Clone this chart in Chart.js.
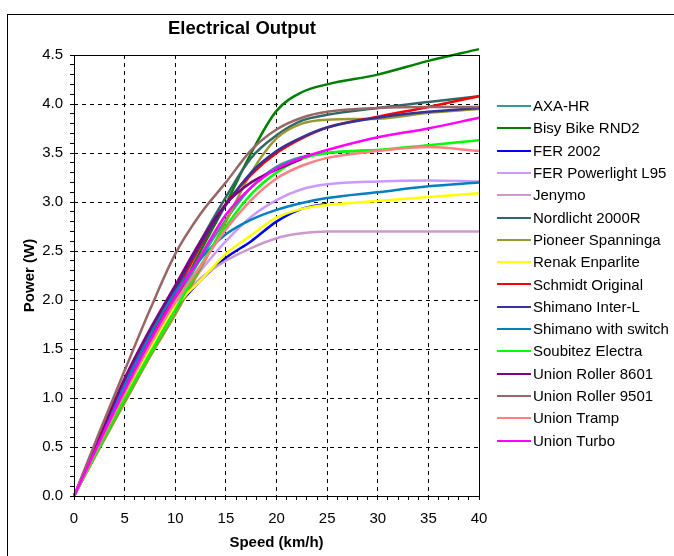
<!DOCTYPE html>
<html>
<head>
<meta charset="utf-8">
<script src="https://cdn.jsdelivr.net/npm/chart.js@4.4.1/dist/chart.umd.min.js"></script>
<style>
html,body{margin:0;padding:0;background:#fff;}
#wrap{position:relative;width:674px;height:556px;overflow:hidden;}
canvas{display:block;}
</style>
</head>
<body>
<div id="wrap"><canvas id="c" width="674" height="556"></canvas></div>
<script>
// ---- data ----
const chartTitle = "Electrical Output";
const xAxisTitle = "Speed (km/h)";
const yAxisTitle = "Power (W)";

const speeds = [0, 2.5, 5, 7.5, 10, 12.5, 15, 17.5, 20, 22.5, 25, 30, 35, 40];

const seriesNames = [
  "AXA-HR", "Bisy Bike RND2", "FER 2002", "FER Powerlight L95", "Jenymo",
  "Nordlicht 2000R", "Pioneer Spanninga", "Renak Enparlite", "Schmidt Original",
  "Shimano Inter-L", "Shimano with switch", "Soubitez Electra", "Union Roller 8601",
  "Union Roller 9501", "Union Tramp", "Union Turbo"
];

const seriesColors = [
  "#339999", "#008000", "#0000ff", "#cc99ff", "#cc99cc",
  "#336666", "#999933", "#ffff00", "#ff0000",
  "#333399", "#0080c0", "#00ff00", "#800080",
  "#996666", "#ff8080", "#ff00ff"
];

const axaHr        = [0, 0.52, 1.04, 1.52, 1.97, 2.42, 2.82, 3.15, 3.36, 3.46, 3.50, 3.53];
const bisyBike     = [0, 0.54, 1.08, 1.55, 2.00, 2.50, 2.98, 3.50, 3.93, 4.12, 4.20, 4.30, 4.44, 4.56];
const fer2002      = [0, 0.50, 1.00, 1.47, 1.90, 2.20, 2.43, 2.60, 2.80, 2.93, 2.98];
const ferL95       = [0, 0.53, 1.05, 1.53, 1.97, 2.30, 2.60, 2.85, 3.02, 3.13, 3.18, 3.21, 3.22, 3.21];
const jenymo       = [0, 0.52, 1.04, 1.50, 1.94, 2.22, 2.40, 2.53, 2.63, 2.68, 2.70, 2.70, 2.70, 2.70];
const nordlicht    = [0, 0.56, 1.10, 1.62, 2.08, 2.60, 3.05, 3.45, 3.68, 3.83, 3.89, 3.96, 4.02, 4.08];
const pioneer      = [0, 0.48, 0.95, 1.42, 1.85, 2.32, 2.80, 3.30, 3.65, 3.80, 3.84, 3.85, 3.91, 3.95];
const renak        = [0, 0.52, 1.03, 1.50, 1.93, 2.20, 2.47, 2.66, 2.84, 2.93, 2.97, 3.01, 3.05, 3.09];
const schmidt      = [0, 0.55, 1.10, 1.60, 2.07, 2.55, 2.98, 3.28, 3.50, 3.65, 3.76, 3.87, 3.97, 4.08];
const shimanoInter = [0, 0.58, 1.15, 1.66, 2.12, 2.57, 2.97, 3.30, 3.52, 3.66, 3.76, 3.86, 3.92, 3.96];
const shimanoSwitch= [0, 0.57, 1.13, 1.64, 2.08, 2.42, 2.67, 2.82, 2.92, 2.99, 3.04, 3.10, 3.16, 3.20];
const soubitez     = [0, 0.50, 0.99, 1.45, 1.90, 2.35, 2.75, 3.08, 3.30, 3.44, 3.50, 3.53, 3.58, 3.63];
const roller8601   = [0, 0.60, 1.20, 1.70, 2.15, 2.60, 2.98, 3.20, 3.33, 3.44];
const roller9501   = [0, 0.65, 1.28, 1.90, 2.47, 2.88, 3.20, 3.53, 3.74, 3.86, 3.92, 3.96, 3.97, 3.97];
const unionTramp   = [0, 0.53, 1.05, 1.54, 1.98, 2.35, 2.72, 3.02, 3.24, 3.37, 3.45, 3.52, 3.56, 3.52];
const unionTurbo   = [0, 0.55, 1.08, 1.58, 2.03, 2.45, 2.87, 3.15, 3.34, 3.45, 3.53, 3.66, 3.75, 3.86];

const seriesValues = [axaHr, bisyBike, fer2002, ferL95, jenymo, nordlicht, pioneer, renak,
  schmidt, shimanoInter, shimanoSwitch, soubitez, roller8601, roller9501, unionTramp, unionTurbo];

const xMin = 0, xMax = 40, xMinorStep = 1, xMajorEvery = 5;
const yMin = 0, yMax = 4.5, yMinorStep = 0.1, yMajorEvery = 0.5;

// ---- styling / layout ----
const FONT = "'Liberation Sans', Arial, sans-serif";
const PLOT = {left: 74, top: 55, right: 479, bottom: 496};
const CANVAS_W = 674, CANVAS_H = 556;

const datasets = seriesNames.map((name, i) => ({
  label: name,
  data: seriesValues[i].map((v, k) => ({x: speeds[k], y: v})),
  borderColor: seriesColors[i],
  backgroundColor: seriesColors[i],
  borderWidth: 2.5,
  pointRadius: 0,
  pointHoverRadius: 0,
  fill: false,
  clip: false,
  cubicInterpolationMode: 'monotone',
  order: seriesNames.length - 1 - i
}));

function isMajor(v, every) {
  const r = v / every;
  return Math.abs(r - Math.round(r)) < 1e-6;
}

const decorPlugin = {
  id: 'decor',
  beforeDraw(chart) {
    const ctx = chart.ctx;
    ctx.save();
    ctx.fillStyle = '#fff';
    ctx.fillRect(0, 0, CANVAS_W, CANVAS_H);
    ctx.strokeStyle = '#000';
    ctx.lineWidth = 1;
    ctx.strokeRect(7.5, 14.5, CANVAS_W + 20, CANVAS_H + 20);
    ctx.restore();
  },
  afterDraw(chart) {
    const ctx = chart.ctx;
    const a = chart.chartArea;
    ctx.save();
    // plot frame
    ctx.strokeStyle = '#000';
    ctx.lineWidth = 1;
    ctx.setLineDash([]);
    ctx.strokeRect(Math.round(a.left) + 0.5, Math.round(a.top) + 0.5,
      Math.round(a.right - a.left), Math.round(a.bottom - a.top));
    // title
    ctx.fillStyle = '#000';
    ctx.font = "bold 18.5px " + FONT;
    ctx.textAlign = 'center';
    ctx.textBaseline = 'middle';
    ctx.fillText(chartTitle, 242, 29);
    // legend
    ctx.font = "15px " + FONT;
    ctx.textAlign = 'left';
    const lx0 = a.right + 18, lx1 = a.right + 52, tx = a.right + 54;
    const ly0 = 106, step = 22.3;
    chart.data.datasets.forEach((ds, i) => {
      const y = ly0 + i * step;
      ctx.strokeStyle = ds.borderColor;
      ctx.lineWidth = 2;
      ctx.beginPath();
      ctx.moveTo(lx0, Math.round(y));
      ctx.lineTo(lx1, Math.round(y));
      ctx.stroke();
      ctx.fillStyle = '#000';
      ctx.fillText(ds.label, tx, y + 1);
    });
    ctx.restore();
  }
};

new Chart(document.getElementById('c'), {
  type: 'line',
  data: {datasets},
  options: {
    responsive: false,
    animation: false,
    devicePixelRatio: 1,
    events: [],
    layout: {padding: {left: 0, top: PLOT.top, right: CANVAS_W - PLOT.right, bottom: 0}},
    plugins: {legend: {display: false}, title: {display: false}, tooltip: {enabled: false}},
    scales: {
      x: {
        type: 'linear',
        min: xMin, max: xMax,
        afterFit(scale) { scale.height = CANVAS_H - PLOT.bottom; },
        border: {display: false, dash: [4, 4]},
        grid: {
          color: (ctx) => {
            const v = ctx.tick ? ctx.tick.value : 0;
            return (isMajor(v, xMajorEvery) && v > xMin && v < xMax) ? '#000' : 'rgba(0,0,0,0)';
          },
          lineWidth: 1,
          tickColor: '#000',
          tickLength: 4,
          drawTicks: true
        },
        ticks: {
          stepSize: xMinorStep,
          autoSkip: false,
          maxRotation: 0,
          padding: 10,
          color: '#000',
          font: {family: FONT, size: 15},
          callback: (v) => isMajor(v, xMajorEvery) ? String(Math.round(v)) : ''
        },
        title: {
          display: true, text: xAxisTitle, color: '#000',
          font: {family: FONT, size: 15, weight: 'bold'},
          padding: {top: 0, bottom: 4}
        }
      },
      y: {
        type: 'linear',
        min: yMin, max: yMax,
        afterFit(scale) { scale.width = PLOT.left; },
        border: {display: false, dash: [4, 4]},
        grid: {
          color: (ctx) => {
            const v = ctx.tick ? ctx.tick.value : 0;
            return (isMajor(v, yMajorEvery) && v > yMin + 1e-6 && v < yMax - 1e-6) ? '#000' : 'rgba(0,0,0,0)';
          },
          lineWidth: 1,
          tickColor: '#000',
          tickLength: 4,
          drawTicks: true
        },
        ticks: {
          stepSize: yMinorStep,
          autoSkip: false,
          padding: 7,
          color: '#000',
          font: {family: FONT, size: 15},
          callback: (v) => isMajor(v, yMajorEvery) ? Number(v).toFixed(1) : ''
        },
        title: {
          display: true, text: yAxisTitle, color: '#000',
          font: {family: FONT, size: 15, weight: 'bold'},
          padding: {top: 21, bottom: 0}
        }
      }
    }
  },
  plugins: [decorPlugin]
});
</script>
</body>
</html>
